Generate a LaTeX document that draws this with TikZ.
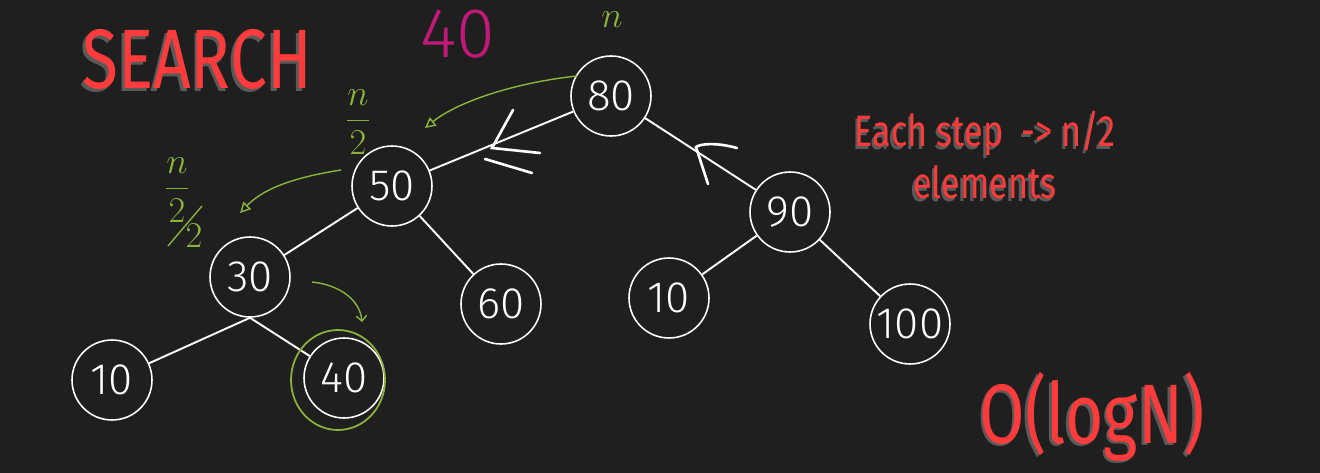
\documentclass[tikz,border=0pt]{standalone}
\usepackage{fontspec}
\setmainfont{Fira Sans}
\newfontfamily\narrowfont{Fira Sans}[FakeStretch=0.78]
\newfontfamily\thinfont{Fira Sans Light}
\usetikzlibrary{arrows.meta}

\definecolor{board}{HTML}{1F1F1F}
\definecolor{titlered}{HTML}{FF3B3B}
\definecolor{ghostgray}{HTML}{5A5A5A}
\definecolor{chalkgreen}{HTML}{8DB33A}
\definecolor{inkpink}{HTML}{C2187A}

% red text with its grey shadow underneath
\newcommand{\shadowed}[1]{\rlap{\kern-1.5pt\raisebox{-1.5pt}{\textcolor{ghostgray}{#1}}}\textcolor{titlered}{#1}}

\begin{document}
\begin{tikzpicture}[x=0.02cm,y=-0.02cm,
    key/.style={draw=white, circle, line width=0.9pt, minimum size=1.6cm,
        inner sep=0pt, text=white, font=\thinfont\fontsize{25}{25}\selectfont},
    branch/.style={white, line width=1.1pt},
    chalk/.style={white, line width=1.5pt, line cap=round},
    hint/.style={chalkgreen, line width=0.8pt},
    heading/.style={inner sep=0pt, font=\narrowfont}]

% the board
\fill[board] (0,0) rectangle (1320,473);

% titles
\node[heading] (search) at (197,61)   {\fontsize{48}{48}\selectfont\shadowed{SEARCH}};
\node[heading] (bigo)   at (1092,418) {\fontsize{48}{48}\selectfont\shadowed{O(logN)}};
\node[heading] (step1)  at (985,135)  {\fontsize{25}{25}\selectfont\shadowed{Each step\ \ -> n/2}};
\node[heading] (elem)   at (985,184)  {\fontsize{25}{25}\selectfont\shadowed{elements}};

% the tree
\node[key] (n80)  at (611,96)  {80};
\node[key] (n50)  at (392,186) {50};
\node[key] (n90)  at (790,212) {90};
\node[key] (n30)  at (250,277) {30};
\node[key] (n60)  at (501,304) {60};
\node[key] (n10r) at (669,298) {10};
\node[key] (n100) at (910,324) {100};
\node[key] (n10l) at (112,380) {10};
\node[key] (n40)  at (344,378) {40};

\draw[branch] (n80) -- (n50);
\draw[branch] (n80) -- (n90);
\draw[branch] (n50) -- (n30);
\draw[branch] (n50) -- (n60);
\draw[branch] (n90) -- (n10r);
\draw[branch] (n90) -- (n100);
\draw[branch] (n30.south) -- (n10l);
\draw[branch] (n30.south) -- (n40);

% hand drawn arrow heads on the way up
\draw[chalk] (513,110) -- (492,148) -- (540,153);
\draw[chalk] (485,159) -- (532,173);
\draw[chalk] (737,148) .. controls (715,142) and (700,144) .. (696,147) -- (708,184);

% what we search for, and the halving
\node[text=inkpink, font=\thinfont\fontsize{40}{40}\selectfont] (wanted) at (458,34) {40};
\node[text=chalkgreen, font=\fontsize{22}{22}\selectfont] (sizeN) at (612,20) {$n$};
\node[text=chalkgreen, font=\fontsize{20}{20}\selectfont] (sizeH) at (358,122) {$\displaystyle\frac{n}{2}$};
\node[text=chalkgreen, font=\fontsize{20}{20}\selectfont] (sizeQ) at (177,190) {$\displaystyle\frac{n}{2}$};
\node[text=chalkgreen, font=\fontsize{20}{20}\selectfont] (sizeQ2) at (194,236) {$2$};
\draw[hint] (168,246) -- (202,206);

\coordinate (g1a) at (577,76);  \coordinate (g1b) at (425,128);
\coordinate (g2a) at (341,170); \coordinate (g2b) at (240,213);
\coordinate (g3a) at (312,282); \coordinate (g3b) at (362,322);
\draw[hint, -{Triangle[open, length=6pt, width=6pt]}] (g1a) .. controls (520,82) and (460,100) .. (g1b);
\draw[hint, -{Triangle[open, length=6pt, width=6pt]}] (g2a) .. controls (290,178) and (262,190) .. (g2b);
\draw[hint, -{Straight Barb[length=3pt]}] (g3a) .. controls (340,285) and (360,300) .. (g3b);

% found it
\draw[hint, line width=1pt] (338,380) ellipse (47 and 50);

\end{tikzpicture}
\end{document}
